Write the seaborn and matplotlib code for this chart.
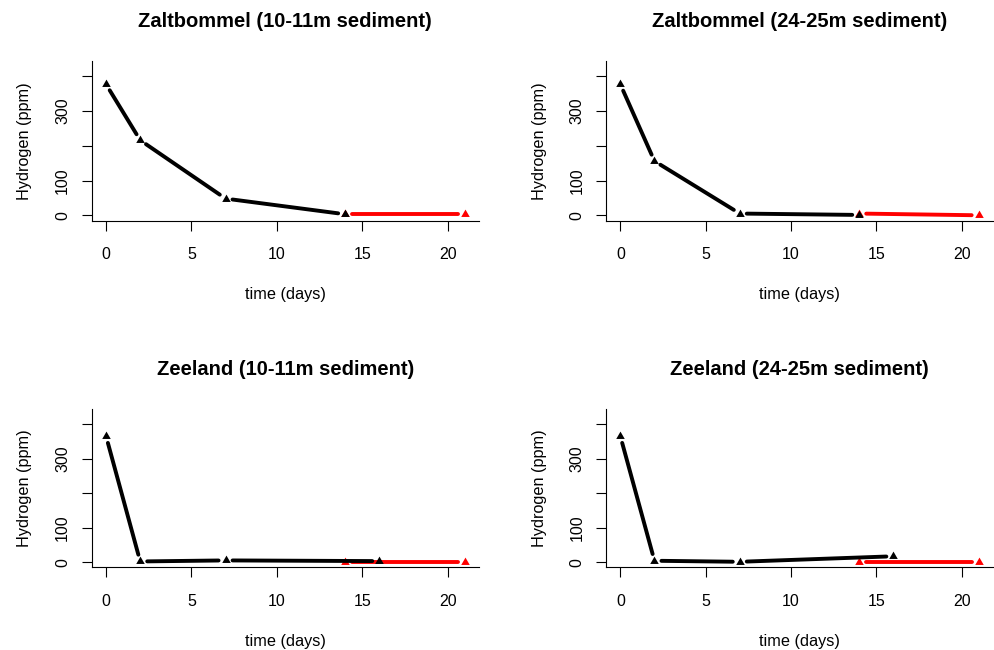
import numpy as np
import pandas as pd
import matplotlib
matplotlib.use("Agg")
import matplotlib.pyplot as plt
import seaborn as sns
from matplotlib.path import Path

# ---------------- data ----------------
titles = ["Zaltbommel (10-11m sediment)", "Zaltbommel (24-25m sediment)",
          "Zeeland (10-11m sediment)", "Zeeland (24-25m sediment)"]

# black series (samples)
days_zaltbommel = [0, 2, 7, 14]
days_zeeland = [0, 2, 7, 16]
h2_zb_10 = [377, 216, 48, 3]
h2_zb_24 = [377, 156, 5, 1]
h2_zl_10 = [366, 2, 5, 3]
h2_zl_24 = [366, 4, 1, 17]

# red series (controls)
days_ctrl = [14, 21]
ctrl_zb_10 = [3, 3]
ctrl_zb_24 = [5, 0]
ctrl_zl_10 = [1, 1]
ctrl_zl_24 = [0, 0]

xticks = [0, 5, 10, 15, 20]
yticks = [0, 100, 200, 300, 400]
ytick_labels = ["0", "100", "", "300", ""]
xlabel = "time (days)"
ylabel = "Hydrogen (ppm)"

panels = [
    (titles[0], days_zaltbommel, h2_zb_10, days_ctrl, ctrl_zb_10),
    (titles[1], days_zaltbommel, h2_zb_24, days_ctrl, ctrl_zb_24),
    (titles[2], days_zeeland, h2_zl_10, days_ctrl, ctrl_zl_10),
    (titles[3], days_zeeland, h2_zl_24, days_ctrl, ctrl_zl_24),
]

# ---------------- style ----------------
sns.set_theme(style="ticks")
plt.rcParams["font.family"] = ["Liberation Sans", "DejaVu Sans"]
plt.rcParams["axes.edgecolor"] = "black"
plt.rcParams["text.color"] = "black"
plt.rcParams["axes.labelcolor"] = "black"
plt.rcParams["xtick.color"] = "black"
plt.rcParams["ytick.color"] = "black"

W, H, DPI = 995, 650, 100
fig = plt.figure(figsize=(W / DPI, H / DPI), dpi=DPI)
fig.patch.set_facecolor("white")

# panel boxes in pixels: left, right, top, bottom
boxes = [(91.7, 479, 61, 220.5), (606, 993, 61, 220.5),
         (91.7, 479, 409.3, 567.3), (606, 993, 409.3, 567.3)]

# R-like filled triangle (pch 17), centroid at the data point
tri = Path([(0, 1.555), (1.347, -0.778), (-1.347, -0.778), (0, 0)], closed=True)

GAP_PX = 7.0
LW = 2.8


def gapped_segments(ax, xs, ys, gap_px):
    pts = ax.transData.transform(np.column_stack([xs, ys]).astype(float))
    inv = ax.transData.inverted()
    rows = []
    for i in range(len(xs) - 1):
        p0, p1 = pts[i], pts[i + 1]
        d = p1 - p0
        L = np.hypot(*d)
        if L <= 2 * gap_px:
            continue
        u = d / L
        a, b = inv.transform(np.array([p0 + u * gap_px, p1 - u * gap_px]))
        rows.append((a[0], a[1], i))
        rows.append((b[0], b[1], i))
    return pd.DataFrame(rows, columns=["x", "y", "seg"])


def draw_series(ax, xs, ys, color, z):
    seg = gapped_segments(ax, xs, ys, GAP_PX * DPI / 100)
    if len(seg):
        sns.lineplot(data=seg, x="x", y="y", units="seg", estimator=None,
                     sort=False, color=color, lw=LW, solid_capstyle="round",
                     ax=ax, legend=False, zorder=z)
    sns.scatterplot(x=xs, y=ys, marker=tri, s=50, color=color, linewidth=0,
                    ax=ax, legend=False, zorder=z + 0.5)


for (title, dx, dy, cx, cy), (l, r, t, b) in zip(panels, boxes):
    ax = fig.add_axes([l / W, 1 - b / H, (r - l) / W, (b - t) / H])
    ax.set_facecolor("white")
    ax.set_xlim(-0.84, 21.84)
    ax.set_ylim(-15, 444)

    draw_series(ax, cx, cy, "#FF0000", 2)
    draw_series(ax, dx, dy, "#000000", 3)

    ax.set_xticks(xticks)
    ax.set_xticklabels([str(v) for v in xticks])
    ax.set_yticks(yticks)
    ax.set_yticklabels(ytick_labels, rotation=90, va="center")
    ax.tick_params(axis="both", length=7, width=0.8, labelsize=11.5)
    ax.tick_params(axis="x", pad=12)
    ax.tick_params(axis="y", pad=8.5)
    for sp in ["top", "right"]:
        ax.spines[sp].set_visible(False)
    for sp in ["left", "bottom"]:
        ax.spines[sp].set_linewidth(0.8)
    ax.set_xlabel(xlabel, fontsize=11.7, labelpad=18)
    ax.set_ylabel(ylabel, fontsize=11.7, labelpad=16.5)
    ax.set_title(title, fontsize=14.5, fontweight="bold", pad=24.5)

fig.savefig("out.png", dpi=DPI, facecolor="white")
